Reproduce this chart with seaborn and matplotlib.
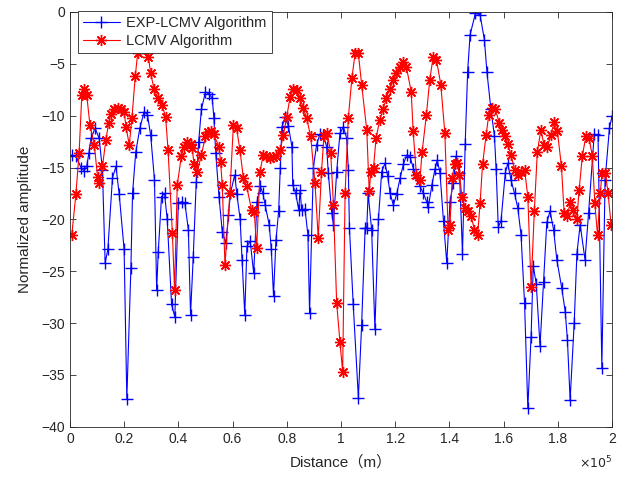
import numpy as np
import pandas as pd
import matplotlib
matplotlib.use("Agg")
import matplotlib.pyplot as plt
import seaborn as sns

# distance in units of 1e5 m, amplitude in dB
exp_x = [0.007, 0.022, 0.041, 0.052, 0.062, 0.07, 0.078, 0.093, 0.108, 0.12, 0.13, 0.14,
         0.157, 0.17, 0.182, 0.2, 0.21, 0.225, 0.231, 0.243, 0.258, 0.274, 0.286, 0.298,
         0.312, 0.32, 0.326, 0.338, 0.349, 0.359, 0.375, 0.387, 0.4, 0.412, 0.424, 0.437,
         0.445, 0.455, 0.466, 0.475, 0.485, 0.5, 0.512, 0.525, 0.531, 0.538, 0.55, 0.562,
         0.575, 0.585, 0.592, 0.608, 0.616, 0.628, 0.635, 0.645, 0.653, 0.665, 0.678, 0.69,
         0.702, 0.712, 0.72, 0.735, 0.743, 0.751, 0.76, 0.77, 0.776, 0.782, 0.794, 0.806,
         0.819, 0.822, 0.833, 0.844, 0.849, 0.855, 0.867, 0.878, 0.884, 0.898, 0.91, 0.922,
         0.935, 0.947, 0.953, 0.966, 0.972, 0.984, 0.996, 1.009, 1.021, 1.027, 1.031, 1.045,
         1.064, 1.076, 1.089, 1.095, 1.1, 1.113, 1.125, 1.138, 1.15, 1.162, 1.172, 1.181,
         1.193, 1.205, 1.218, 1.23, 1.242, 1.255, 1.267, 1.279, 1.291, 1.304, 1.316, 1.322,
         1.335, 1.347, 1.355, 1.365, 1.378, 1.39, 1.402, 1.414, 1.424, 1.437, 1.448, 1.458,
         1.467, 1.476, 1.496, 1.513, 1.529, 1.538, 1.553, 1.566, 1.572, 1.58, 1.59, 1.606,
         1.615, 1.627, 1.64, 1.652, 1.664, 1.677, 1.689, 1.701, 1.709, 1.72, 1.734, 1.747,
         1.759, 1.771, 1.784, 1.796, 1.814, 1.827, 1.835, 1.845, 1.86, 1.87, 1.882, 1.9,
         1.913, 1.934, 1.948, 1.962, 1.974, 1.99, 2.0]
exp_y = [-13.8, -13.9, -15.0, -15.3, -14.9, -13.6, -12.2, -11.2, -12.2, -15.2, -24.2, -22.9,
         -16.0, -14.9, -17.6, -22.9, -37.3, -24.7, -17.5, -13.5, -11.2, -9.6, -9.9, -11.9,
         -16.2, -26.8, -23.1, -17.8, -17.5, -20.0, -28.2, -29.4, -18.4, -18.3, -18.4, -21.0,
         -29.2, -23.6, -16.4, -12.5, -9.4, -7.7, -7.9, -8.3, -10.2, -13.6, -17.8, -21.2,
         -22.3, -19.6, -17.5, -15.7, -17.6, -20.0, -23.9, -29.2, -22.6, -22.1, -25.2, -18.3,
         -16.8, -17.5, -18.6, -20.5, -22.9, -27.4, -22.0, -19.2, -15.0, -11.1, -10.1, -11.0,
         -13.0, -16.7, -17.5, -19.1, -17.2, -19.1, -19.0, -21.5, -29.0, -15.0, -12.8, -11.8,
         -11.9, -13.0, -15.5, -19.4, -20.5, -15.4, -11.7, -11.1, -12.2, -15.2, -20.8, -28.2,
         -37.2, -30.2, -20.8, -20.8, -17.5, -21.0, -30.6, -20.0, -15.4, -14.6, -15.8, -17.5,
         -18.6, -17.6, -16.0, -14.7, -13.8, -14.0, -15.1, -16.0, -16.8, -17.5, -18.3, -18.8,
         -16.7, -15.1, -14.3, -15.5, -20.2, -24.2, -18.3, -16.5, -13.9, -15.5, -23.3, -12.7,
         -5.75, -2.2, -0.1, -0.3, -2.7, -5.75, -9.4, -12.0, -15.1, -20.7, -20.2, -15.5,
         -14.6, -16.2, -17.5, -18.9, -21.5, -28.1, -38.2, -31.3, -24.5, -26.2, -32.2, -26.0,
         -20.3, -19.2, -21.0, -23.9, -26.6, -28.9, -31.6, -37.4, -30.0, -23.3, -20.5, -23.9,
         -19.4, -11.8, -11.9, -34.3, -16.2, -11.2, -10.0]

lcmv_x = [0.007, 0.022, 0.034, 0.044, 0.053, 0.062, 0.074, 0.09, 0.102, 0.108, 0.12, 0.133,
          0.143, 0.151, 0.163, 0.176, 0.188, 0.2, 0.207, 0.219, 0.229, 0.241, 0.25, 0.27,
          0.289, 0.298, 0.31, 0.325, 0.34, 0.353, 0.362, 0.378, 0.386, 0.396, 0.411, 0.421,
          0.433, 0.445, 0.451, 0.458, 0.47, 0.485, 0.5, 0.51, 0.519, 0.53, 0.55, 0.556,
          0.562, 0.572, 0.59, 0.603, 0.615, 0.627, 0.64, 0.652, 0.67, 0.68, 0.689, 0.701,
          0.713, 0.725, 0.737, 0.749, 0.76, 0.776, 0.787, 0.8, 0.812, 0.824, 0.836, 0.849,
          0.861, 0.873, 0.888, 0.904, 0.916, 0.928, 0.937, 0.949, 0.962, 0.972, 0.984, 0.996,
          1.006, 1.015, 1.027, 1.04, 1.052, 1.064, 1.076, 1.095, 1.104, 1.11, 1.12, 1.129,
          1.143, 1.155, 1.167, 1.18, 1.192, 1.204, 1.217, 1.229, 1.241, 1.259, 1.266, 1.278,
          1.291, 1.299, 1.315, 1.327, 1.34, 1.352, 1.368, 1.383, 1.395, 1.402, 1.41, 1.419,
          1.428, 1.437, 1.446, 1.458, 1.467, 1.48, 1.492, 1.504, 1.513, 1.522, 1.535, 1.545,
          1.557, 1.569, 1.584, 1.595, 1.606, 1.615, 1.627, 1.64, 1.652, 1.664, 1.677, 1.689,
          1.701, 1.713, 1.724, 1.737, 1.749, 1.761, 1.774, 1.786, 1.798, 1.813, 1.823, 1.835,
          1.845, 1.857, 1.87, 1.878, 1.89, 1.903, 1.915, 1.927, 1.936, 1.946, 1.956, 1.963,
          1.975, 1.985, 1.996]
lcmv_y = [-21.5, -17.6, -13.6, -8.0, -7.4, -8.0, -10.9, -12.8, -15.9, -16.5, -14.9, -12.3,
          -10.7, -9.8, -9.4, -9.3, -9.4, -9.6, -11.1, -12.8, -10.2, -6.2, -4.0, -3.2,
          -4.3, -5.9, -7.4, -8.3, -9.0, -10.1, -13.3, -21.3, -26.8, -16.7, -13.9, -13.0,
          -12.5, -12.7, -13.1, -14.7, -15.4, -13.8, -12.0, -11.6, -11.5, -11.8, -13.0, -14.5,
          -16.7, -24.4, -17.5, -10.9, -11.2, -13.3, -16.0, -16.8, -19.1, -19.3, -22.8, -15.4,
          -13.8, -13.9, -14.1, -14.0, -13.9, -13.3, -11.9, -10.1, -8.2, -7.4, -7.5, -8.3,
          -9.3, -10.2, -12.0, -16.5, -21.8, -15.4, -12.0, -11.7, -13.6, -18.6, -28.1, -31.8,
          -34.7, -17.5, -10.2, -6.4, -4.0, -4.0, -7.0, -11.4, -17.3, -15.4, -15.0, -12.2,
          -10.4, -9.4, -8.3, -7.4, -6.6, -5.9, -5.3, -4.8, -5.3, -7.7, -11.5, -15.7,
          -16.2, -13.5, -9.9, -6.6, -4.3, -4.6, -7.0, -11.7, -21.0, -20.5, -16.0, -14.7,
          -14.6, -15.7, -17.8, -18.9, -19.2, -19.7, -21.0, -21.5, -18.4, -14.7, -11.9, -9.9,
          -9.3, -9.4, -10.7, -11.4, -12.0, -12.7, -13.8, -15.2, -15.7, -15.4, -15.2, -17.8,
          -26.5, -19.2, -13.5, -11.4, -12.8, -13.0, -11.9, -10.6, -11.5, -14.9, -19.4, -19.7,
          -18.3, -19.1, -20.0, -17.2, -13.9, -12.0, -12.2, -13.9, -18.4, -21.5, -17.5, -15.5,
          -15.5, -17.5, -20.5]

x_ticks = [0, 0.2, 0.4, 0.6, 0.8, 1, 1.2, 1.4, 1.6, 1.8, 2]
x_labels = ['0', '0.2', '0.4', '0.6', '0.8', '1', '1.2', '1.4', '1.6', '1.8', '2']
y_ticks = [-40, -35, -30, -25, -20, -15, -10, -5, 0]

exp_df = pd.DataFrame({'x': exp_x, 'y': exp_y})
lcmv_df = pd.DataFrame({'x': lcmv_x, 'y': lcmv_y})

sns.set_style('ticks')
plt.rcParams['font.family'] = ['Liberation Sans', 'Noto Sans CJK SC', 'DejaVu Sans']

fig = plt.figure(figsize=(6.24, 4.79), dpi=100)
ax = fig.add_axes([0.112, 0.109, 0.869, 0.866])

sns.lineplot(data=exp_df, x='x', y='y', ax=ax, color='#0000ff', linewidth=0.8,
             marker='+', markersize=8, markeredgewidth=1.0, markeredgecolor='#0000ff',
             estimator=None, sort=False, label='EXP-LCMV Algorithm')
# matlab style asterisk: 8 arms
sns.lineplot(data=lcmv_df, x='x', y='y', ax=ax, color='#ff0000', linewidth=0.8,
             marker=(8, 2, 0), markersize=8, markeredgewidth=1.0, markeredgecolor='#ff0000',
             estimator=None, sort=False, label='LCMV Algorithm')

ax.set_xlim(0, 2)
ax.set_ylim(-40, 0)
ax.set_xticks(x_ticks)
ax.set_xticklabels(x_labels)
ax.set_yticks(y_ticks)
ax.tick_params(direction='in', top=True, right=True, length=4, width=0.6,
               labelsize=10, colors='#262626')
for s in ax.spines.values():
    s.set_linewidth(0.6)
    s.set_color('#262626')

ax.set_xlabel('Distance（m）', fontsize=11, color='#262626', labelpad=7)
ax.set_ylabel('Normalized amplitude', fontsize=11, color='#262626', labelpad=7)
ax.text(1.0, -0.068, r'$\times10^{5}$', transform=ax.transAxes, ha='right', va='top',
        fontsize=9, color='#262626')

leg = ax.legend(loc='upper left', bbox_to_anchor=(0.015, 1.003), fontsize=10.5,
                frameon=True, fancybox=False, framealpha=1, edgecolor='#262626',
                borderpad=0.35, labelspacing=0.3, handlelength=2.5, handletextpad=0.45,
                borderaxespad=0)
leg.get_frame().set_linewidth(0.6)

fig.savefig('out.png', dpi=100)
